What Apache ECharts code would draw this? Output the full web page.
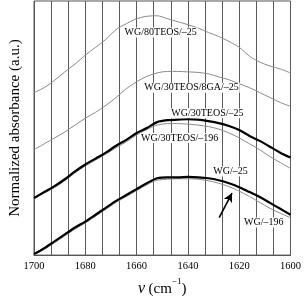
<!DOCTYPE html>
<html><head><meta charset="utf-8">
<script src="https://cdn.jsdelivr.net/npm/echarts@6/dist/echarts.min.js"></script>
<style>html,body{margin:0;padding:0;background:#fff}#c{width:304px;height:302px}</style>
</head><body><div id="c"></div>
<script>
const wavenumbers = [1700,1696,1692,1688,1684,1680,1676,1672,1668,1664,1660,1656,1652,1648,1644,1640,1636,1632,1628,1624,1620,1616,1612,1608,1604,1600];
const wg80teos25 = [165,170,177.5,186,194,203,211,219,229,235,240,242.5,243,240,237,234,230.5,226,222,217,211,202,196,192,189,185];
const wg30teos8ga25 = [107,113,119,125,132,139,145,152,160,169,176,181.5,185,186.5,186.5,186,185.5,184,181,178,174,170,165,160,155,151];
const wg30teos25 = [58,64,70,77,85,92,98,104,111,117,124,129,135,137,137.5,138,137.5,136,134,131,127,121,116,110,104,99];
const wg30teos196 = [57,63,68.5,75.5,83.5,90.5,96.5,102.5,109,115,122,127.5,132,133.5,133.5,133,132,130.5,128,124,119,113,107,100,94,88];
const wg25 = [1,7,14,21,28,34,41,48,55,61,67,73,78,79,79,79.5,79,78,76,73,69,64,59,53,47,41];
const wg196 = [0.5,6,12.5,19.5,26.5,32.5,39.5,46.5,53.5,59.5,65.5,71.5,76,77,77.5,77.5,77,75.5,73,69.5,65,59.5,53.5,47.5,42.5,38];
const xTicks = [1700,1680,1660,1640,1620,1600];
const labels = [
  {text:'WG/80TEOS/\u201325', at:[1650.6,226]},
  {text:'WG/30TEOS/8GA/\u201325', at:[1638.6,170]},
  {text:'WG/30TEOS/\u201325', at:[1632.4,144]},
  {text:'WG/30TEOS/\u2013196', at:[1643.2,119]},
  {text:'WG/\u201325', at:[1623.4,85]},
  {text:'WG/\u2013196', at:[1610.4,33]}
];
const arrowFrom = [1627.8,38], arrowTo = [1622.8,63];

const font = '"Liberation Serif","DejaVu Serif",serif';
const chart = echarts.init(document.getElementById('c'), null, {renderer:'canvas'});
const mk = (arr) => wavenumbers.map((w,i)=>[w,arr[i]]);
const thin = {color:'#8a8a8a', width:1};
const thick = {color:'#000', width:2.2};
const ser = (name, arr, ls, z) => ({name, type:'line', data:mk(arr), showSymbol:false, smooth:0.3, lineStyle:ls, z, silent:true, animation:false});
chart.setOption({
  animation:false,
  grid:{left:33, right:12, top:1, bottom:43, show:true, borderColor:'#555', borderWidth:1, backgroundColor:'transparent'},
  xAxis:{type:'value', min:1600, max:1700, inverse:true, interval:20,
    axisLine:{show:true, lineStyle:{color:'#555'}}, axisTick:{show:false},
    axisLabel:{fontFamily:font, fontSize:10.5, color:'#000', margin:6, formatter:(v)=>xTicks.includes(v)?String(v):''},
    splitLine:{show:true, lineStyle:{color:'#5a5a5a', width:1}},
    minorTick:{show:false, splitNumber:3},
    minorSplitLine:{show:true, lineStyle:{color:'#5a5a5a', width:1}},
    name:'{i|\u03bd} {n|(cm}{s|\u22121}{n|)}', nameLocation:'middle', nameGap:13,
    nameTextStyle:{rich:{
      i:{fontFamily:font, fontStyle:'italic', fontSize:16, color:'#000', lineHeight:20, verticalAlign:'bottom'},
      n:{fontFamily:font, fontSize:15, color:'#000', lineHeight:20, verticalAlign:'bottom'},
      s:{fontFamily:font, fontSize:9, color:'#000', lineHeight:9, verticalAlign:'top'}
    }}
  },
  yAxis:{type:'value', min:0, max:258, axisLine:{show:false}, axisTick:{show:false}, axisLabel:{show:false}, splitLine:{show:false},
    name:'Normalized absorbance (a.u.)', nameLocation:'middle', nameGap:11,
    nameTextStyle:{fontFamily:font, fontSize:15, color:'#000'}},
  series:[
    ser('WG/80TEOS/-25', wg80teos25, thin, 2),
    ser('WG/30TEOS/8GA/-25', wg30teos8ga25, thin, 2),
    ser('WG/30TEOS/-196', wg30teos196, thin, 2),
    ser('WG/30TEOS/-25', wg30teos25, thick, 3),
    ser('WG/-196', wg196, thin, 2),
    Object.assign(ser('WG/-25', wg25, thick, 3), {
      markLine:{silent:true, symbol:['none','arrow'], symbolSize:[7,9], label:{show:false},
        lineStyle:{color:'#000', width:1.6, type:'solid'},
        data:[[{coord:arrowFrom},{coord:arrowTo}]]}
    })
  ]
});
const g = labels.map(l => {
  const p = chart.convertToPixel({gridIndex:0}, l.at);
  return {type:'text', x:p[0], y:p[1], z:10,
    style:{text:l.text, fontFamily:font, fontSize:10, fill:'#000', align:'center', verticalAlign:'middle', backgroundColor:'#fff', padding:[0,1]}};
});
chart.setOption({graphic:g});
</script></body></html>
